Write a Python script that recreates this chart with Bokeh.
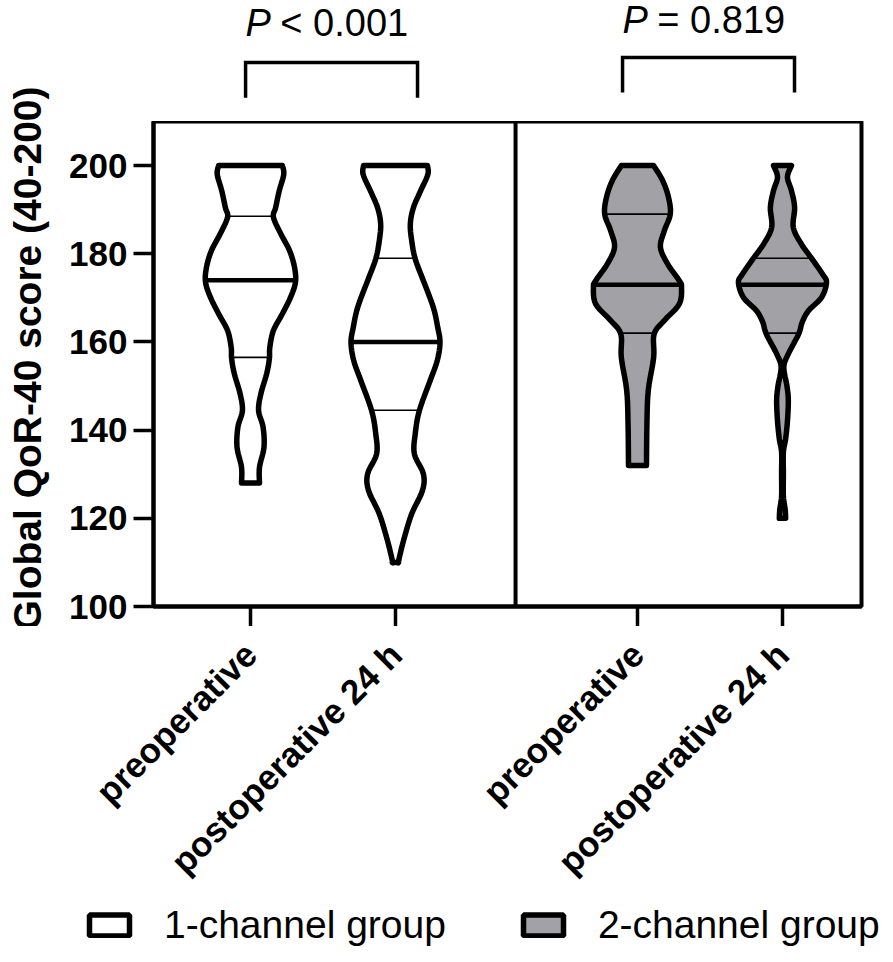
import numpy as np
from bokeh.plotting import figure
from bokeh.layouts import column, row
from bokeh.models import FixedTicker, Legend, LegendItem, Range1d
from bokeh.core.properties import value
from bokeh.embed import file_html
from bokeh.resources import INLINE

# ---------------- data ----------------
categories = ["preoperative", "postoperative 24 h", "preoperative", "postoperative 24 h"]
cat_pos = [1.0, 2.0, 3.669, 4.669]
y_ticks = [100, 120, 140, 160, 180, 200]
groups = ["1-channel group", "1-channel group", "2-channel group", "2-channel group"]
legend_labels = ["1-channel group", "2-channel group"]
y_title = "Global QoR-40 score (40-200)"

# violin profiles: score level -> relative density (1 = widest)
v1_score = [200, 198, 194.3, 190.5, 188.3, 184.6, 180.7, 176.9, 173.5, 170.1, 166.4,
            162.6, 158.8, 156.2, 152.8, 148.2, 144.4, 140.7, 136.1, 131.6, 128]
v1_dens = [0.71, 0.74, 0.64, 0.56, 0.51, 0.67, 0.87, 0.98, 1.0, 0.89, 0.71,
           0.51, 0.43, 0.42, 0.36, 0.23, 0.18, 0.28, 0.30, 0.20, 0.20]

v2_score = [200, 198, 194.3, 190.5, 186.8, 183, 178.8, 173.9, 167.9, 163.3, 159.9,
            155.8, 151.2, 144.4, 139.2, 134.6, 130.1, 126.3, 121, 115, 110.4, 110]
v2_dens = [0.71, 0.72, 0.56, 0.40, 0.33, 0.36, 0.44, 0.62, 0.84, 0.94, 0.99,
           0.93, 0.77, 0.53, 0.44, 0.42, 0.62, 0.60, 0.36, 0.18, 0.07, 0.07]

v3_score = [200, 196.6, 192.8, 189, 185.3, 181.5, 177.7, 173.9, 172.4, 168.6, 164.9,
            161.8, 156.5, 149, 141.4, 132]
v3_dens = [0.36, 0.56, 0.69, 0.73, 0.60, 0.51, 0.67, 0.93, 0.98, 0.93, 0.60,
           0.37, 0.36, 0.24, 0.21, 0.20]

v4_score = [200, 197.4, 194.3, 190.5, 186, 182.2, 178.8, 175.4, 173.5, 170.1, 167.1,
            164.5, 161.8, 157.3, 154.3, 150, 146.7, 142, 138, 135, 130, 125, 122, 120]
v4_dens = [0.20, 0.11, 0.20, 0.27, 0.24, 0.42, 0.66, 0.89, 0.98, 0.87, 0.58,
           0.44, 0.36, 0.13, 0.03, 0.10, 0.13, 0.11, 0.07, 0.02, 0.02, 0.02, 0.06, 0.07]

q1 = [156.5, 144.5, 162, 162]
medians = [174, 160, 173, 173]
q3 = [188.5, 179, 189, 179]

p_texts = ["< 0.001", "= 0.819"]

profiles = [(v1_score, v1_dens), (v2_score, v2_dens), (v3_score, v3_dens), (v4_score, v4_dens)]
fills = {"1-channel group": "white", "2-channel group": "#a2a2a6"}

# ---------------- layout constants ----------------
X0, X1 = 0.331, 5.214
PX = 708 / (X1 - X0)  # pixels per x unit
TOP = 210
DIV = 2.828
HALF = 0.31  # max half width in x units
FONT = "Liberation Sans"
TITLE_W = 54
FRAME_L = 153
BORDER_L = FRAME_L - TITLE_W
TOP_H = 121
MAIN_H = 485
TICK_OUT = 20
UPPER_H = TOP_H + MAIN_H + TICK_OUT
PAGE_W = 893
xr = Range1d(X0, X1)


def smooth(sc, de, n=6):
    """Catmull-Rom rendering of the read outline points (drawing only)."""
    P = np.column_stack([sc, de])
    P = np.vstack([P[0], P, P[-1]])
    out = []
    for k in range(1, len(P) - 2):
        p0, p1, p2, p3 = P[k - 1], P[k], P[k + 1], P[k + 2]
        for t in np.linspace(0, 1, n, endpoint=False):
            t2, t3 = t * t, t * t * t
            pt_ = 0.5 * ((2 * p1) + (-p0 + p2) * t + (2 * p0 - 5 * p1 + 4 * p2 - p3) * t2
                         + (-p0 + 3 * p1 - 3 * p2 + p3) * t3)
            out.append(pt_)
    out.append(P[-2])
    out = np.array(out)
    return out[:, 0], np.clip(out[:, 1], 0.005, None)


# ---------------- y-axis title strip ----------------
tf = figure(frame_width=TITLE_W, frame_height=UPPER_H, x_range=Range1d(0, TITLE_W),
            y_range=Range1d(UPPER_H, 0), output_backend="svg", toolbar_location=None,
            min_border=0)
tf.axis.visible = False
tf.grid.visible = False
tf.outline_line_color = None
tf.text(x=[27], y=[358], text=[y_title], angle=np.pi / 2, text_font=value(FONT),
        text_font_style="bold", text_font_size="39px", text_align="center",
        text_baseline="middle", text_color="black")

# ---------------- top strip (brackets & P values) ----------------
pt = figure(frame_width=708, frame_height=TOP_H, x_range=xr,
            y_range=Range1d(TOP, TOP + TOP_H / 4.41),
            output_backend="svg", toolbar_location=None,
            min_border_left=BORDER_L, min_border_top=0, min_border_right=24, min_border_bottom=0)
pt.axis.visible = False
pt.grid.visible = False
pt.outline_line_color = None

br_x = [[0.966, 0.966, 2.152, 2.152], [3.566, 3.566, 4.752, 4.752]]
br_y = [[215.4, 223.4, 223.4, 215.4], [216.6, 224.5, 224.5, 216.6]]
pt.multi_line(xs=br_x, ys=br_y, line_color="black", line_width=3.5, line_join="miter")

p_x = [0.966, 3.566]
p_y = [232.3, 233.0]
pt.text(x=p_x, y=p_y, text=["P", "P"], text_font=value(FONT), text_font_style="italic",
        text_font_size="38px", text_align="left", text_baseline="middle", text_color="black")
pt.text(x=[px + 0.24 for px in p_x], y=p_y, text=p_texts, text_font=value(FONT),
        text_font_size="38px", text_align="left", text_baseline="middle", text_color="black")

# ---------------- main violin plot ----------------
p = figure(frame_width=708, frame_height=MAIN_H, x_range=xr, y_range=Range1d(100, TOP),
           output_backend="svg", toolbar_location=None,
           min_border_left=BORDER_L, min_border_top=0, min_border_right=24, min_border_bottom=0)
p.grid.visible = False
p.outline_line_color = "black"
p.outline_line_width = 4

for i, (sc, de) in enumerate(profiles):
    sc = np.array(sc, dtype=float)
    de = np.array(de, dtype=float)
    order = np.argsort(sc)
    sc, de = sc[order], de[order]
    ss, dd = smooth(sc, de)
    c = cat_pos[i]
    xs = np.concatenate([c + dd * HALF, (c - dd * HALF)[::-1]])
    ys = np.concatenate([ss, ss[::-1]])
    p.patch(xs, ys, fill_color=fills[groups[i]], line_color="black",
            line_width=5.5, line_join="round")
    for qv, lw in ((q1[i], 1.6), (q3[i], 1.6), (medians[i], 4.5)):
        hw = np.interp(qv, ss, dd) * HALF
        p.segment(x0=[c - hw], y0=[qv], x1=[c + hw], y1=[qv], line_color="black", line_width=lw)

p.segment(x0=[DIV], y0=[100], x1=[DIV], y1=[TOP], line_color="black", line_width=4)

yax = p.yaxis[0]
yax.ticker = FixedTicker(ticks=y_ticks)
yax.axis_line_width = 4
yax.major_tick_out = 20
yax.major_tick_in = 0
yax.major_tick_line_width = 3.5
yax.minor_tick_line_color = None
yax.major_label_text_font = FONT
yax.major_label_text_font_style = "bold"
yax.major_label_text_font_size = "35px"
yax.major_label_text_color = "black"
yax.major_label_standoff = 6

xax = p.xaxis[0]
xax.ticker = FixedTicker(ticks=cat_pos)
xax.axis_line_width = 4
xax.axis_line_color = "black"
xax.major_tick_out = TICK_OUT
xax.major_tick_in = 0
xax.major_tick_line_width = 3.5
xax.minor_tick_line_color = None
xax.major_label_text_font_size = "0px"   # category names are set diagonally in the strip below
xax.major_label_text_color = None
xax.major_label_standoff = 0

# ---------------- bottom strip: diagonal category names + legend ----------------
BOT_H = 962 - UPPER_H
sx0 = X0 - FRAME_L / PX
sf = figure(frame_width=PAGE_W, frame_height=BOT_H,
            x_range=Range1d(sx0, sx0 + PAGE_W / PX), y_range=Range1d(BOT_H, 0),
            output_backend="svg", toolbar_location=None, min_border=0)
sf.axis.visible = False
sf.grid.visible = False
sf.outline_line_color = None
sf.text(x=cat_pos, y=[22] * len(cat_pos), text=categories,
        angle=np.pi / 4, text_font=value(FONT), text_font_style="bold", text_font_size="35px",
        text_align="right", text_baseline="middle", text_color="black")

swatches = [sf.patch(x=[np.nan], y=[np.nan], fill_color=fills[lab], line_color="black",
                     line_width=5.5)
            for lab in legend_labels]
legend = Legend(items=[LegendItem(label=lab, renderers=[r]) for lab, r in zip(legend_labels, swatches)],
                orientation="horizontal", location=(84, 15),
                label_text_font=FONT, label_text_font_size="39px", label_text_color="black",
                glyph_width=50, glyph_height=26, label_standoff=30, spacing=72,
                border_line_color=None, background_fill_alpha=0, margin=0, padding=0)
sf.add_layout(legend, "center")

layout = column(row(tf, column(pt, p, spacing=0), spacing=0), sf, spacing=0)
open("out.html", "w").write(file_html(layout, INLINE))
